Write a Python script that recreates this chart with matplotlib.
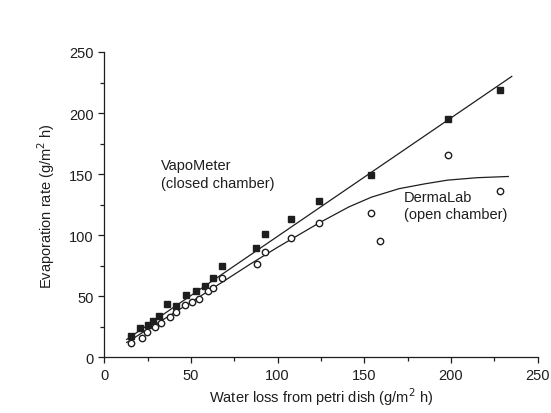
#Evaporation rate measured by two instruments versus
#water loss from a petri dish (scanned figure recreation)

import matplotlib
matplotlib.use('Agg')
import matplotlib.pyplot as plt
from matplotlib.ticker import MultipleLocator

plt.rcParams['font.family'] = ['Liberation Sans', 'DejaVu Sans']

#VapoMeter (closed chamber), filled squares
vapo_x = [15.3, 20.6, 25.4, 28.3, 31.7, 36.3, 41.6, 47, 52.7, 57.9, 63, 68,
          87.5, 93, 108, 124, 154, 198, 228]
vapo_y = [17.5, 23.5, 26, 29.8, 33.3, 43.4, 41.5, 50.8, 54.4, 58.5, 64.5, 74.8,
          89, 101, 113, 128, 149, 195, 219]

#DermaLab (open chamber), open circles
derma_x = [15.3, 21.6, 24.8, 29.2, 33, 37.8, 41.6, 46.4, 50.8, 54.6, 59.8, 63, 68,
           87.9, 93, 108, 124, 154, 159, 198, 228]
derma_y = [11.5, 16, 20.7, 24.3, 27.9, 32.5, 36.6, 42.6, 44.8, 48, 54.4, 57, 64.5,
           76, 86, 97.5, 110, 118, 95, 166, 136]

#fitted lines
vapo_fit_x = [13, 235]
vapo_fit_y = [14.5, 230]
derma_fit_x = [13, 40, 60, 84, 100, 124, 141, 154, 170, 185, 198, 215, 233]
derma_fit_y = [12, 36, 54, 76, 90, 110, 123, 131, 138, 142, 145, 147, 148]

fig = plt.figure(figsize=(5.51, 4.14), dpi=100)
ax = fig.add_axes([0.189, 0.135, 0.787, 0.737])

ink = '#1e1e1e'
ax.plot(vapo_fit_x, vapo_fit_y, color=ink, lw=0.9)
ax.plot(derma_fit_x, derma_fit_y, color=ink, lw=0.9)
ax.plot(vapo_x, vapo_y, 's', color=ink, ms=4.6, mec=ink)
ax.plot(derma_x, derma_y, 'o', mfc='white', mec=ink, mew=1.0, ms=4.6)

ax.set_xlim(0, 250)
ax.set_ylim(0, 250)
ax.xaxis.set_major_locator(MultipleLocator(50))
ax.yaxis.set_major_locator(MultipleLocator(50))
ax.xaxis.set_minor_locator(MultipleLocator(25))
ax.yaxis.set_minor_locator(MultipleLocator(25))
ax.spines['top'].set_visible(False)
ax.spines['right'].set_visible(False)
for s in ['left', 'bottom']:
    ax.spines[s].set_color(ink)
    ax.spines[s].set_linewidth(0.9)
ax.tick_params(which='major', direction='out', length=4, width=0.9,
               color=ink, labelsize=10.5, labelcolor=ink)
ax.tick_params(which='minor', direction='out', length=3, width=0.9, color=ink)

ax.set_xlabel('Water loss from petri dish (g/m$^2$ h)', fontsize=10.5,
              color=ink, labelpad=3)
ax.set_ylabel('Evaporation rate (g/m$^2$ h)', fontsize=10.5, color=ink,
              labelpad=9)

ax.text(33, 150, 'VapoMeter\n(closed chamber)', fontsize=10.5, color=ink,
        va='center', ha='left', linespacing=1.3)
ax.text(173, 124, 'DermaLab\n(open chamber)', fontsize=10.5, color=ink,
        va='center', ha='left', linespacing=1.3)

plt.savefig('out.png', dpi=100)
